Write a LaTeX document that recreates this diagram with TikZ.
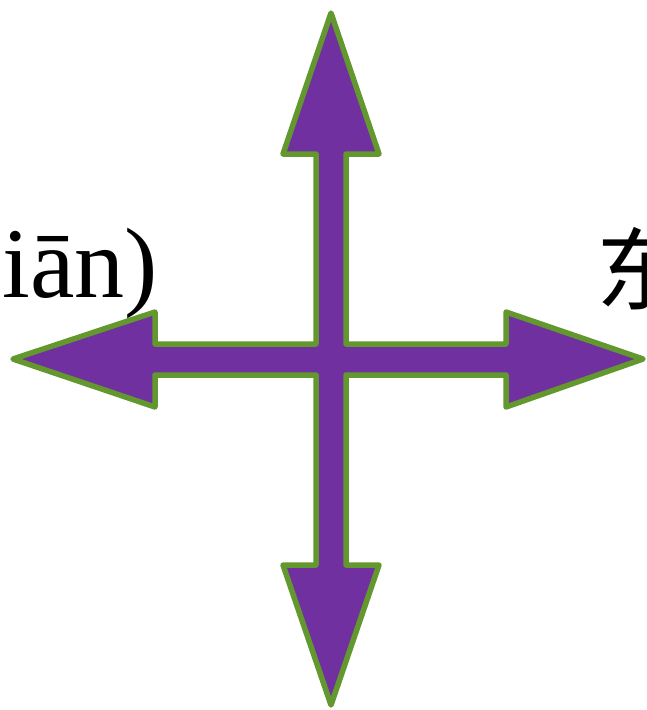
\documentclass[tikz,border=0pt]{standalone}
\usepackage{fontspec}
\setmainfont{Liberation Serif}
\newfontfamily\cjk{Noto Sans CJK SC}
\definecolor{crosspurple}{RGB}{112,48,160}
\definecolor{crossgreen}{RGB}{98,152,46}
\tikzset{cross/.style={fill=crosspurple,draw=crossgreen,line width=5.5pt,line join=round},
 lbl/.style={inner sep=0pt,font=\fontsize{100}{100}\selectfont}}
\begin{document}
\begin{tikzpicture}[x=1pt,y=-1pt]
\useasboundingbox (0,0) rectangle (646,710);
% four-way arrow
\draw[cross] (331,13) -- (379,154) -- (346,154) -- (346,344) -- (506,344) -- (506,312)
 -- (643,359) -- (506,407) -- (506,375) -- (346,375) -- (346,565) -- (379,565)
 -- (331,705) -- (283,565) -- (316,565) -- (316,375) -- (155,375) -- (155,407)
 -- (13,359) -- (155,312) -- (155,344) -- (316,344) -- (316,154) -- (283,154) -- cycle;
% labels
\node[lbl,anchor=base west] (west) at (2,297) {iān)};
\node[lbl,anchor=base west,font=\fontsize{90}{90}\selectfont] (east) at (596,303) {\cjk 东};
\end{tikzpicture}
\end{document}
